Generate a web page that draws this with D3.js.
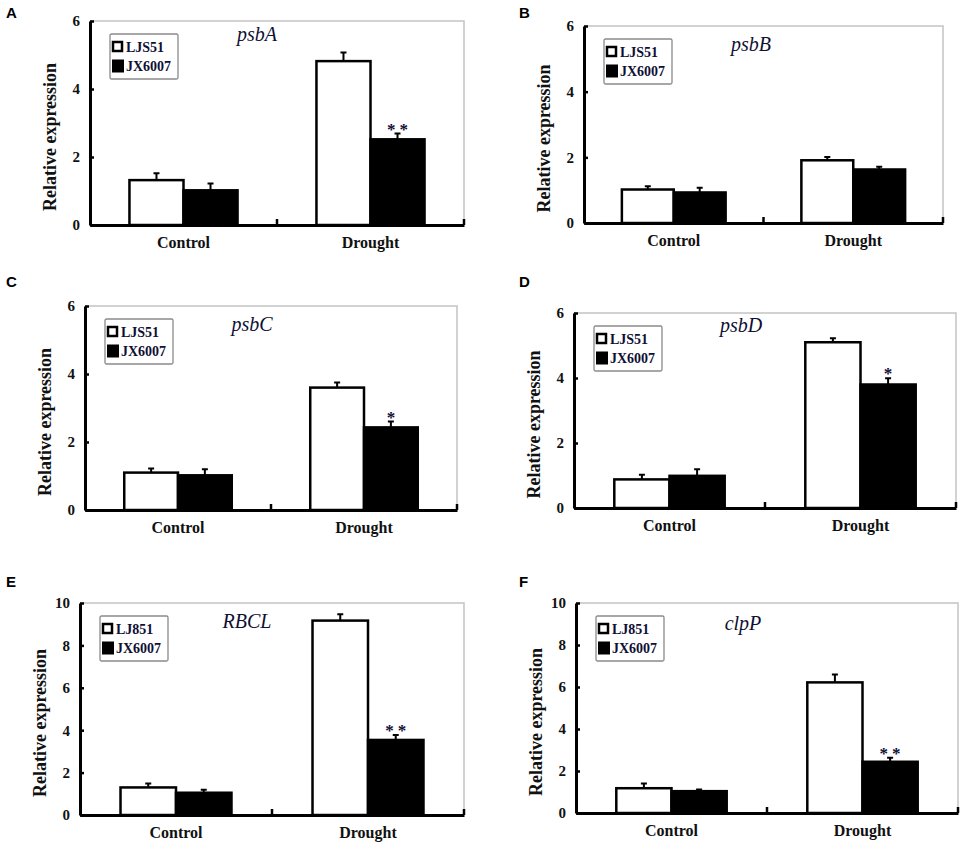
<!DOCTYPE html>
<html>
<head>
<meta charset="utf-8">
<script src="https://cdn.jsdelivr.net/npm/d3@7"></script>
<style>
  body { margin: 0; background: #fff; }
  svg { display: block; }
</style>
</head>
<body>
<div id="chart"></div>
<script>
// values
const panelLetters = ['A', 'B', 'C', 'D', 'E', 'F'];
const genes = ['psbA', 'psbB', 'psbC', 'psbD', 'RBCL', 'clpP'];
const conditions = ['Control', 'Drought'];
const cultivars = ['LJS51', 'JX6007'];
const legendNames = [
  ['LJS51', 'JX6007'], ['LJS51', 'JX6007'], ['LJS51', 'JX6007'],
  ['LJS51', 'JX6007'], ['LJ851', 'JX6007'], ['LJ851', 'JX6007']
];
const ljs51Mean = [[1.32, 4.82], [1.02, 1.91], [1.10, 3.60], [0.88, 5.10], [1.30, 9.17], [1.18, 6.22]];
const ljs51Err = [[0.20, 0.25], [0.10, 0.10], [0.12, 0.15], [0.14, 0.12], [0.18, 0.30], [0.22, 0.38]];
const jx6007Mean = [[1.02, 2.52], [0.93, 1.63], [1.02, 2.43], [0.99, 3.80], [1.05, 3.54], [1.04, 2.44]];
const jx6007Err = [[0.20, 0.17], [0.14, 0.08], [0.18, 0.17], [0.20, 0.19], [0.14, 0.23], [0.08, 0.19]];
const droughtMarks = ['**', '', '*', '*', '**', '**'];
const yMax = [6, 6, 6, 6, 10, 10];
const yTicks = [[0, 2, 4, 6], [0, 2, 4, 6], [0, 2, 4, 6], [0, 2, 4, 6],
  [0, 2, 4, 6, 8, 10], [0, 2, 4, 6, 8, 10]];

// plot rectangles of each panel on the page
const panelBoxes = [
  { x0: 90, x1: 464, y0: 21, y1: 225, ly: 18, ty: 20 },
  { x0: 584, x1: 943, y0: 26, y1: 223, ly: 18, ty: 25 },
  { x0: 85, x1: 457, y0: 306, y1: 510, ly: 287, ty: 25 },
  { x0: 574, x1: 956, y0: 313, y1: 508, ly: 287, ty: 19 },
  { x0: 80, x1: 464, y0: 603, y1: 815, ly: 587, ty: 25 },
  { x0: 576, x1: 958, y0: 603, y1: 813, ly: 587, ty: 27 }
];

const W = 964, H = 850;
const serif = '"Liberation Serif", "Times New Roman", serif';
const navy = '#0f0f35';

const svg = d3.select('#chart').append('svg')
  .attr('width', W)
  .attr('height', H);

function serifText(sel, size, weight) {
  sel.style('font-family', serif)
    .style('font-size', size + 'px')
    .style('font-weight', weight || 'bold');
}

panelBoxes.forEach((b, p) => {
  const g = svg.append('g').attr('transform', `translate(${b.x0},${b.y0})`);
  const w = b.x1 - b.x0, h = b.y1 - b.y0;

  // panel letter
  svg.append('text')
    .attr('x', b.x0 < 300 ? 6 : 519)
    .attr('y', b.ly)
    .style('font-family', '"Liberation Sans", Arial, sans-serif')
    .style('font-size', '15px')
    .style('font-weight', 'bold')
    .text(panelLetters[p]);

  const x0 = d3.scaleBand().domain(conditions).range([0, w]);
  const x1 = d3.scaleBand().domain(cultivars).range([0, x0.bandwidth()])
    .paddingInner(0).paddingOuter(0.73);
  const y = d3.scaleLinear().domain([0, yMax[p]]).range([h, 0]);

  // grey top and right frame
  g.append('path')
    .attr('d', `M0,0H${w}V${h}`)
    .attr('fill', 'none')
    .attr('stroke', '#c4c4c4')
    .attr('stroke-width', 1.5);

  const rows = conditions.map((c, i) => ({
    cond: c,
    vals: [
      { cv: cultivars[0], m: ljs51Mean[p][i], e: ljs51Err[p][i] },
      { cv: cultivars[1], m: jx6007Mean[p][i], e: jx6007Err[p][i] }
    ]
  }));

  const grp = g.selectAll('.grp').data(rows).enter().append('g')
    .attr('transform', d => `translate(${x0(d.cond)},0)`);

  grp.selectAll('rect').data(d => d.vals).enter().append('rect')
    .attr('x', d => x1(d.cv))
    .attr('y', d => y(d.m))
    .attr('width', x1.bandwidth())
    .attr('height', d => h - y(d.m))
    .attr('fill', d => d.cv === cultivars[0] ? '#fff' : '#000')
    .attr('stroke', '#000')
    .attr('stroke-width', 2.5);

  // upper error bars
  grp.selectAll('.err').data(d => d.vals).enter().append('path')
    .attr('d', d => {
      const cx = x1(d.cv) + x1.bandwidth() / 2;
      return `M${cx},${y(d.m)}V${y(d.m + d.e)}M${cx - 3},${y(d.m + d.e)}H${cx + 3}`;
    })
    .attr('stroke', '#000')
    .attr('stroke-width', 2)
    .attr('fill', 'none');

  // significance stars above JX6007 under drought
  if (droughtMarks[p]) {
    const d = rows[1].vals[1];
    g.append('text')
      .attr('x', x0('Drought') + x1(d.cv) + x1.bandwidth() / 2 + 2)
      .attr('y', y(d.m + d.e) + 1)
      .attr('text-anchor', 'middle')
      .call(serifText, 17)
      .style('letter-spacing', '4px')
      .attr('fill', navy)
      .text(droughtMarks[p]);
  }

  // y axis
  const yAxis = g.append('g')
    .call(d3.axisLeft(y).tickValues(yTicks[p]).tickFormat(d3.format('d'))
      .tickSizeInner(-4).tickSizeOuter(0).tickPadding(10));
  yAxis.select('.domain').attr('stroke-width', 3);
  yAxis.selectAll('.tick line').attr('stroke-width', 2.5);
  yAxis.selectAll('text').call(serifText, 15).attr('fill', '#111');

  // x axis
  const xAxis = g.append('g')
    .attr('transform', `translate(0,${h})`)
    .call(d3.axisBottom(x0).tickSize(0).tickPadding(12));
  xAxis.select('.domain').attr('stroke-width', 3);
  xAxis.selectAll('text').call(serifText, 16).attr('fill', '#111');

  // category boundary ticks
  g.selectAll('.ctick').data(conditions).enter().append('line')
    .attr('x1', d => x0(d) + x0.bandwidth())
    .attr('x2', d => x0(d) + x0.bandwidth())
    .attr('y1', h)
    .attr('y2', h - 6)
    .attr('stroke', '#000')
    .attr('stroke-width', 2.5);

  // y label
  g.append('text')
    .attr('transform', `translate(-40,${h / 2 + 14}) rotate(-90)`)
    .attr('text-anchor', 'middle')
    .attr('dominant-baseline', 'central')
    .call(serifText, 18)
    .attr('fill', '#111')
    .text('Relative expression');

  // gene title
  g.append('text')
    .attr('x', 167)
    .attr('y', b.ty)
    .attr('text-anchor', 'middle')
    .call(serifText, 20, 'normal')
    .style('font-style', 'italic')
    .attr('fill', navy)
    .text(genes[p]);

  // legend
  const lg = g.append('g').attr('transform', 'translate(20,13)');
  lg.append('rect')
    .attr('width', 68)
    .attr('height', 45)
    .attr('rx', 1.5)
    .attr('fill', '#fff')
    .attr('stroke', '#8a8a8a')
    .attr('stroke-width', 1.3);
  const item = lg.selectAll('.item').data(legendNames[p]).enter().append('g')
    .attr('transform', (d, i) => `translate(0,${13 + i * 19})`);
  item.append('rect')
    .attr('x', (d, i) => i === 0 ? 3 : 2)
    .attr('y', (d, i) => i === 0 ? -5 : -6.5)
    .attr('width', (d, i) => i === 0 ? 9 : 12)
    .attr('height', (d, i) => i === 0 ? 9 : 13)
    .attr('fill', (d, i) => i === 0 ? '#fff' : '#000')
    .attr('stroke', '#000')
    .attr('stroke-width', (d, i) => i === 0 ? 2.5 : 0);
  item.append('text')
    .attr('x', 16)
    .attr('dy', '0.35em')
    .call(serifText, 14)
    .attr('fill', navy)
    .text(d => d);
});
</script>
</body>
</html>
